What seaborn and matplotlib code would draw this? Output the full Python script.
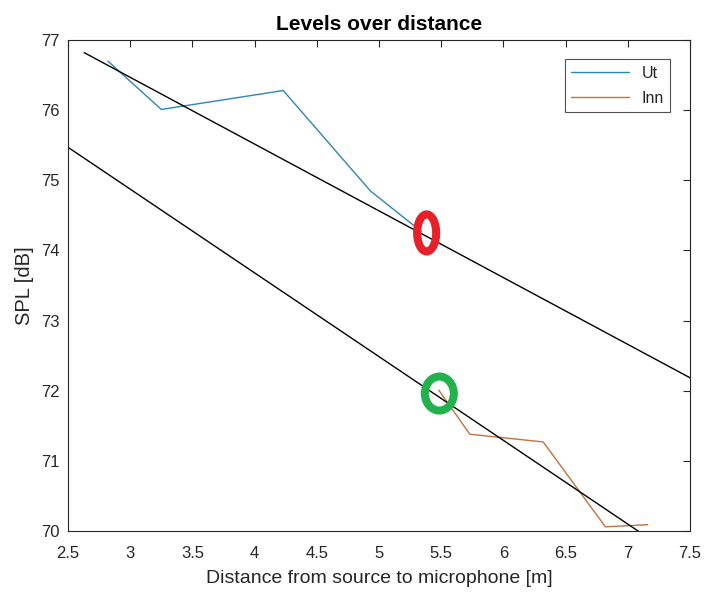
import matplotlib
matplotlib.use("Agg")
import matplotlib.pyplot as plt
from matplotlib.patches import Ellipse
import seaborn as sns
import pandas as pd

# ---- data ----
ut_x = [2.82, 3.25, 4.23, 4.93, 5.34]
ut_y = [76.70, 76.01, 76.28, 74.85, 74.27]
inn_x = [5.48, 5.73, 6.32, 6.82, 7.16]
inn_y = [72.01, 71.38, 71.27, 70.06, 70.09]
fit_ut_x = [2.63, 7.6]
fit_ut_y = [76.82, 72.09]
fit_inn_x = [2.4, 7.2]
fit_inn_y = [75.59, 69.86]
series_names = ["Ut", "Inn"]
xticks = [2.5, 3, 3.5, 4, 4.5, 5, 5.5, 6, 6.5, 7, 7.5]
yticks = [70, 71, 72, 73, 74, 75, 76, 77]
red_mark = (5.383, 74.25)
green_mark = (5.485, 71.96)

sns.set_theme(style="white")
plt.rcParams["font.family"] = ["Liberation Sans", "DejaVu Sans"]

fig = plt.figure(figsize=(7.05, 5.92), dpi=100)
ax = fig.add_axes([0.0965, 0.103, 0.8822, 0.8294])

df_ut = pd.DataFrame({"x": ut_x, "y": ut_y})
df_inn = pd.DataFrame({"x": inn_x, "y": inn_y})
sns.lineplot(data=df_ut, x="x", y="y", ax=ax, color="#2f86b5", lw=1.0,
             label=series_names[0], estimator=None, sort=False)
sns.lineplot(data=df_inn, x="x", y="y", ax=ax, color="#c0733f", lw=1.0,
             label=series_names[1], estimator=None, sort=False)
sns.lineplot(x=fit_ut_x, y=fit_ut_y, ax=ax, color="black", lw=1.0,
             estimator=None, sort=False)
sns.lineplot(x=fit_inn_x, y=fit_inn_y, ax=ax, color="black", lw=1.0,
             estimator=None, sort=False)

ax.add_patch(Ellipse(red_mark, 0.153, 0.528, fill=False, ec="#e8202a", lw=5.8, zorder=5))
ax.add_patch(Ellipse(green_mark, 0.233, 0.485, fill=False, ec="#22b14c", lw=5.8, zorder=5))

ax.set_xlim(2.5, 7.5)
ax.set_ylim(70, 77)
ax.set_xticks(xticks)
ax.set_xticklabels([f"{t:g}" for t in xticks])
ax.set_yticks(yticks)
ax.set_yticklabels([f"{t:g}" for t in yticks])

for s in ax.spines.values():
    s.set_color("#262626")
    s.set_linewidth(0.8)
ax.tick_params(direction="in", top=True, right=True, length=5, width=0.8,
               colors="#262626", labelsize=12, labelcolor="#262626")
ax.tick_params(axis="x", pad=11)
ax.tick_params(axis="y", pad=6)

ax.set_xlabel("Distance from source to microphone [m]", fontsize=14, color="#262626", labelpad=6)
ax.set_ylabel("SPL [dB]", fontsize=14.5, color="#262626", labelpad=5)
ax.set_title("Levels over distance", fontsize=15, fontweight="bold", color="black", pad=7)

leg = ax.legend(loc="upper right", frameon=True, fancybox=False, fontsize=11.5,
                handlelength=3.6, borderpad=0.4, labelspacing=0.65,
                borderaxespad=0, bbox_to_anchor=(0.968, 0.961))
leg.get_frame().set_edgecolor("#262626")
leg.get_frame().set_linewidth(0.8)

fig.savefig("out.png", dpi=100, facecolor="white")
